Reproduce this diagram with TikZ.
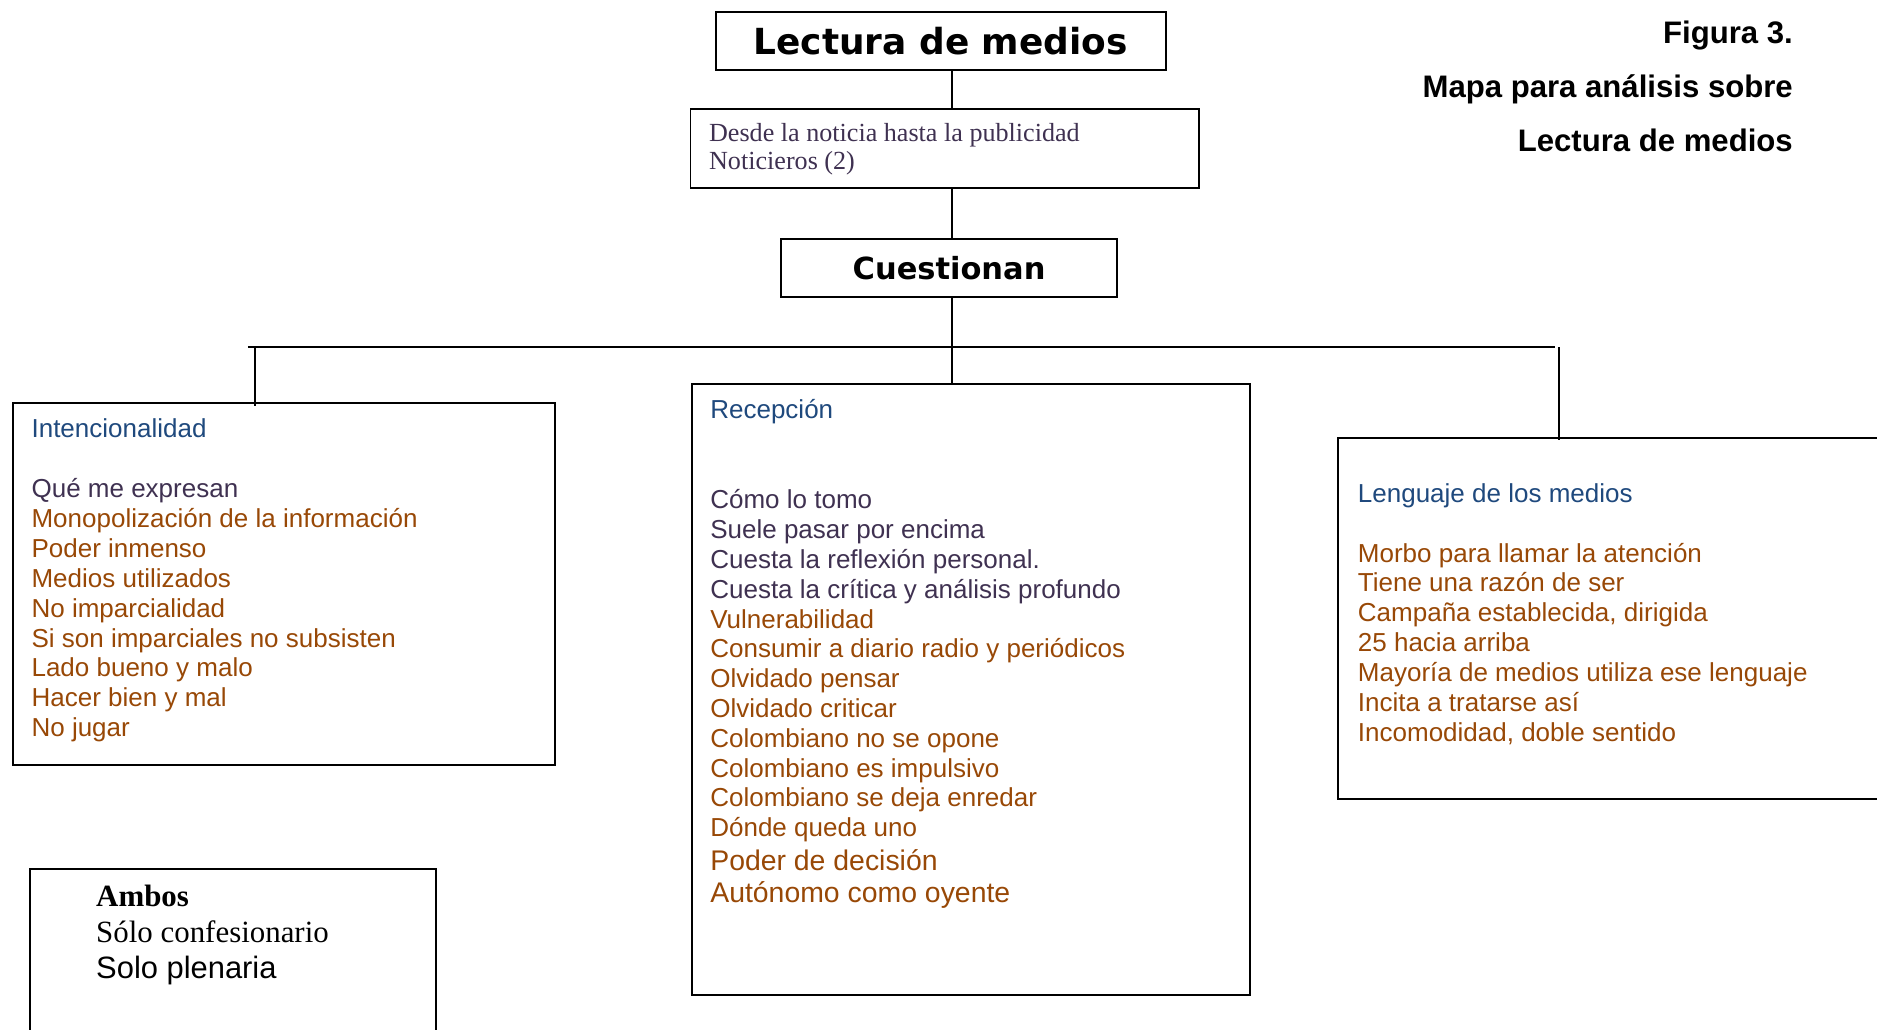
\documentclass[tikz,border=0pt]{standalone}
\usepackage{fontspec}
\setmainfont{Liberation Serif}
\setsansfont{Liberation Sans}
\newfontfamily\verdana{DejaVu Sans}

\definecolor{azul}{HTML}{1F497D}
\definecolor{ocre}{HTML}{984806}
\definecolor{morado}{HTML}{3F3151}

\begin{document}
\begin{tikzpicture}[x=0.55pt, y=-0.55pt,
  caja/.style 2 args={draw, line width=0.9pt, inner sep=0pt, anchor=north west,
    minimum width=#1*0.55pt, minimum height=#2*0.55pt},
  linea/.style={line width=0.9pt},
  item/.style={anchor=base west, inner sep=0pt, font=\sffamily\fontsize{11.95}{13.75}\selectfont},
  itemgrande/.style={item, font=\sffamily\fontsize{13.05}{15}\selectfont},
  cabeza/.style={item, text=azul},
  titulo/.style={anchor=base east, inner sep=0pt, font=\sffamily\bfseries\fontsize{14.3}{16}\selectfont}]

% Page frame
\useasboundingbox (0,0) rectangle (1568,860);
\clip (0,0) rectangle (1568,860);

% Top boxes
\node[caja={376}{49}, font=\verdana\bfseries\fontsize{16.5}{18}\selectfont] (lectura) at (597,9) {Lectura de medios};
\node[caja={425}{66}] (desde) at (576,90) {};
\node[caja={280}{48}, font=\verdana\bfseries\fontsize{14}{16}\selectfont] (cuest) at (652,199) {Cuestionan};

% Lower boxes
\node[caja={453}{302}] (intenc) at (10,336) {};
\node[caja={466}{510}] (recep) at (577,320) {};
\node[caja={483}{302}] (lenguaje) at (1117,365) {};
\node[caja={339}{175}] (ambos) at (24,725) {};

% Text of the second box
\foreach \t [count=\i from 0] in {Desde la noticia hasta la publicidad, Noticieros (2)}
  \node[anchor=base west, inner sep=0pt, text=morado, font=\fontsize{12}{13.2}\selectfont] (desde\i) at (592,118+24*\i) {\t};

% Spine
\coordinate (eje) at (795,0);
\draw[linea] (lectura.south -| eje) -- (desde.north -| eje);
\draw[linea] (desde.south -| eje) -- (cuest.north -| eje);
\draw[linea] (cuest.south -| eje) -- (recep.north -| eje);

% Bus and drops
\coordinate (busI) at (207,290);
\coordinate (busD) at (1299,290);
\coordinate (bajaI) at (213,290);
\coordinate (bajaD) at (1302,290);
\draw[linea] (busI) -- (busD);
\draw[linea] (bajaI) -- ([yshift=-1.6pt]bajaI |- intenc.north);
\draw[linea] (bajaD) -- ([yshift=-1.6pt]bajaD |- lenguaje.north);

% Intencionalidad
\node[cabeza] (intencT) at (26,365.5) {Intencionalidad};
\foreach \c/\t [count=\i from 0] in {morado/Qué me expresan, ocre/Monopolización de la información,
    ocre/Poder inmenso, ocre/Medios utilizados, ocre/No imparcialidad,
    ocre/Si son imparciales no subsisten, ocre/Lado bueno y malo, ocre/Hacer bien y mal, ocre/No jugar}
  \node[item, text=\c] (int\i) at (26,415.5+25*\i) {\t};

% Recepcion
\node[cabeza] (recepT) at (593,349.5) {Recepción};
\foreach \c/\t [count=\i from 0] in {morado/Cómo lo tomo, morado/Suele pasar por encima,
    morado/Cuesta la reflexión personal., morado/Cuesta la crítica y análisis profundo,
    ocre/Vulnerabilidad, ocre/Consumir a diario radio y periódicos, ocre/Olvidado pensar,
    ocre/Olvidado criticar, ocre/Colombiano no se opone, ocre/Colombiano es impulsivo,
    ocre/Colombiano se deja enredar, ocre/Dónde queda uno}
  \node[item, text=\c] (rec\i) at (593,425+24.9*\i) {\t};
\foreach \t [count=\i from 0] in {Poder de decisión, Autónomo como oyente}
  \node[itemgrande, text=ocre] (recG\i) at (593,727+27*\i) {\t};

% Lenguaje de los medios
\node[cabeza] (lengT) at (1134,419.5) {Lenguaje de los medios};
\foreach \t [count=\i from 0] in {Morbo para llamar la atención, Tiene una razón de ser,
    {Campaña establecida, dirigida}, 25 hacia arriba, Mayoría de medios utiliza ese lenguaje,
    Incita a tratarse así, {Incomodidad, doble sentido}}
  \node[item, text=ocre] (len\i) at (1134,469.5+25*\i) {\t};

% Ambos
\node[anchor=base west, inner sep=0pt, font=\bfseries\fontsize{14.2}{16}\selectfont] (amb0) at (80,757.5) {Ambos};
\node[anchor=base west, inner sep=0pt, font=\fontsize{14.2}{16}\selectfont] (amb1) at (80,787.5) {Sólo confesionario};
\node[anchor=base west, inner sep=0pt, font=\sffamily\fontsize{14.2}{16}\selectfont] (amb2) at (80,817) {Solo plenaria};

% Caption
\foreach \t [count=\i from 0] in {Figura 3., Mapa para análisis sobre, Lectura de medios}
  \node[titulo] (fig\i) at (1498,36.5+45*\i) {\t};

\end{tikzpicture}
\end{document}
